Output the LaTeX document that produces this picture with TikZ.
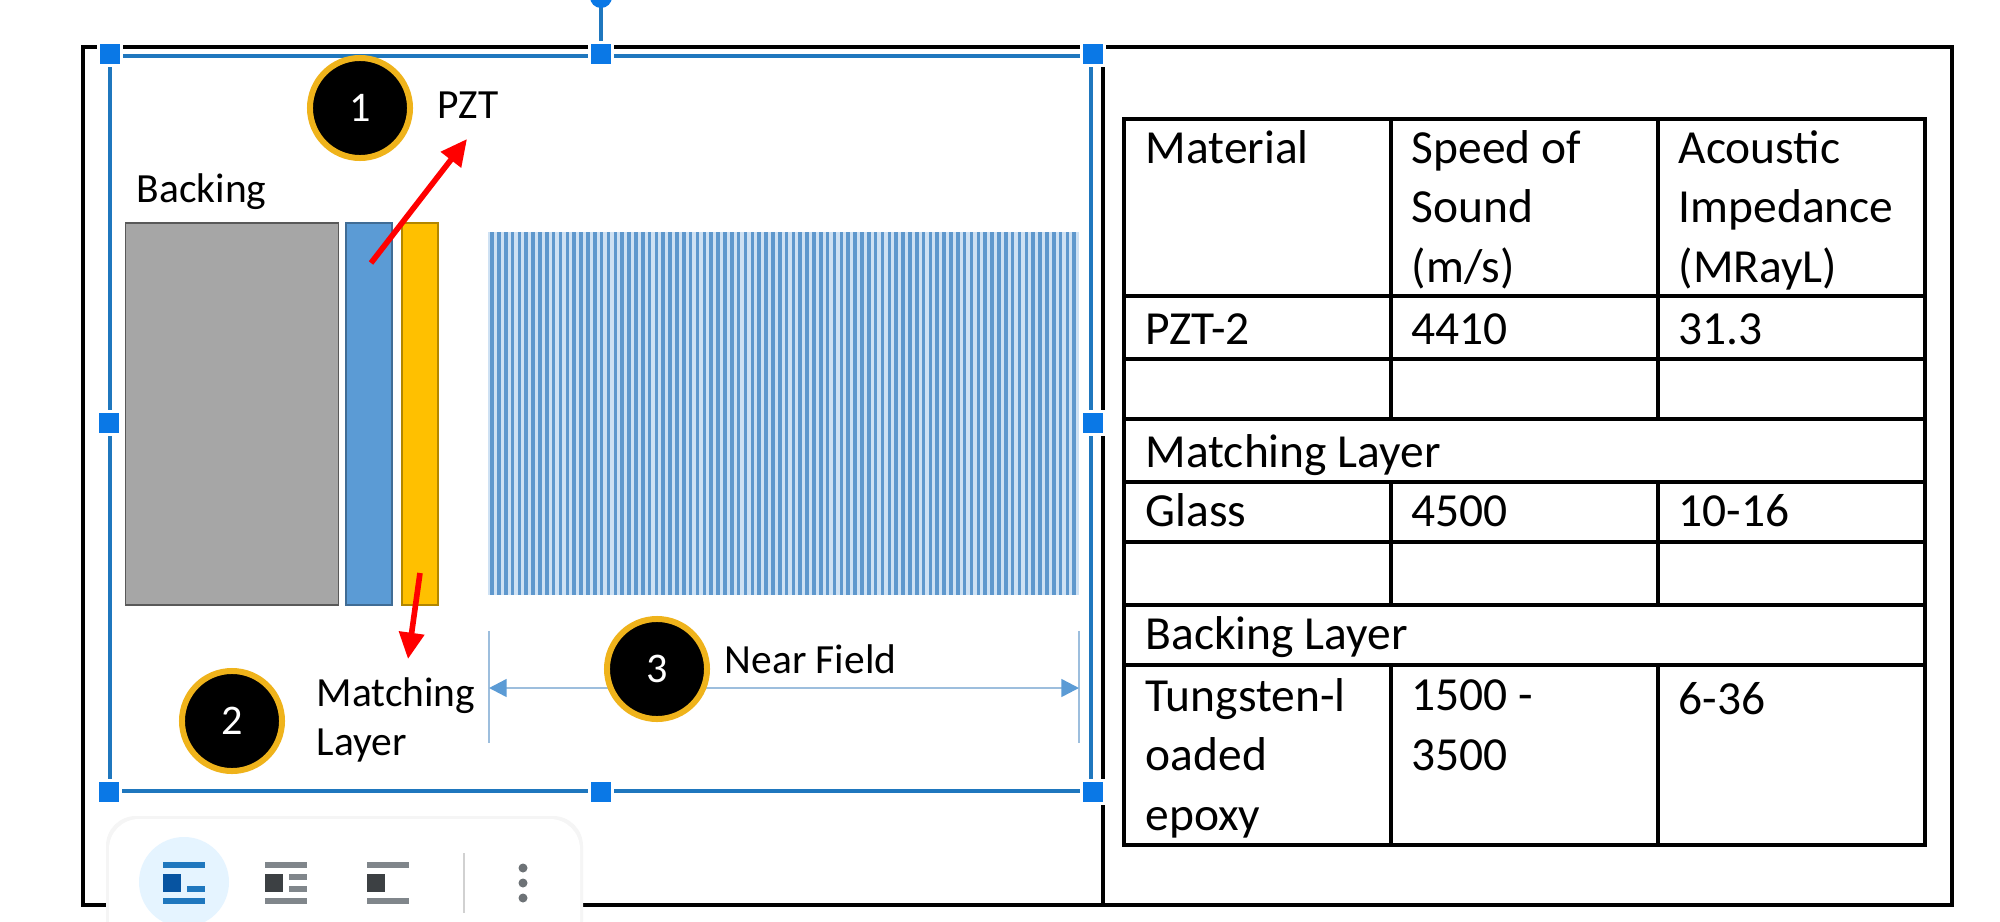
\documentclass[tikz,border=0pt]{standalone}
\usepackage{fontspec}
\setmainfont{Carlito}
\usepackage{tikz}
\usetikzlibrary{arrows.meta, positioning, shadows.blur}
\definecolor{selBlue}{HTML}{1F77BE}
\definecolor{handleBlue}{HTML}{0A78E6}
\definecolor{coilBlue}{HTML}{5B9BD5}
\definecolor{dimBlue}{HTML}{9DBEDD}
\definecolor{matchGold}{HTML}{FFC000}
\definecolor{ringGold}{HTML}{EFB31B}
\definecolor{iconGrey}{HTML}{80868B}
\definecolor{iconDark}{HTML}{3C4043}

\begin{document}
\begin{tikzpicture}[
  x=0.01cm, y=-0.01cm,
  layer/.style={draw=#1!70!black, line width=0.4pt, inner sep=0pt, outer sep=0pt},
  badge/.style={circle, draw=ringGold, fill=black, line width=1.7pt, minimum size=1.0cm,
               inner sep=0pt, text=white, font=\fontsize{12}{14}\selectfont},
  lbl/.style={anchor=base west, inner sep=0pt, font=\fontsize{11.8}{13.8}\selectfont, align=left},
  cell/.style={anchor=base west, inner sep=0pt, font=\fontsize{13.5}{16.9}\selectfont, align=left},
  grid/.style={line width=0.9pt, black},
  redarr/.style={-{Triangle[length=7.5pt,width=7pt]}, line width=1.6pt, red},
  dimarr/.style={-{Triangle[length=5pt,width=5pt,color=coilBlue]}, line width=0.7pt, dimBlue},
  handle/.style={rectangle, fill=handleBlue, draw=white, line width=0.6pt, minimum size=0.23cm, inner sep=0pt}
]
  \clip (0,0) rectangle (2000,921);
  \fill[white] (0,0) rectangle (2000,921);

  % outer frame and table
  \draw[grid] (83,47) rectangle (1952,905);
  \draw[grid] (1103,47) -- (1103,905);
  \draw[grid] (1124,119) rectangle (1925,845);
  \foreach \yy in {296,359,419,482,542,605,665} {
    \draw[grid] (1124,\yy) -- (1925,\yy);
  }
  \foreach \xx in {1391,1658} {
    \draw[grid] (\xx,119) -- (\xx,419);
    \draw[grid] (\xx,482) -- (\xx,605);
    \draw[grid] (\xx,665) -- (\xx,845);
  }

  \node[cell] (tMat) at (1145,163) {Material};
  \node[cell] (tSpeed) at (1411,282) {Speed of\\Sound\\(m/s)};
  \node[cell] (tAcou) at (1678,282) {Acoustic\\Impedance\\(MRayL)};
  \node[cell] (tPzt) at (1145,344) {PZT-2};
  \node[cell] (tPztC) at (1411,344) {4410};
  \node[cell] (tPztZ) at (1678,344) {31.3};
  \node[cell] (tMatch) at (1145,467) {Matching Layer};
  \node[cell] (tGlass) at (1145,526) {Glass};
  \node[cell] (tGlassC) at (1411,526) {4500};
  \node[cell] (tGlassZ) at (1678,526) {10-16};
  \node[cell] (tBack) at (1145,649) {Backing Layer};
  \node[cell] (tTung) at (1145,830) {Tungsten-l\\oaded\\epoxy};
  \node[cell] (tTungC) at (1411,770) {1500 -\\3500};
  \node[cell] (tTungZ) at (1678,714) {6-36};

  % selection box
  \draw[selBlue, line width=1pt] (110,56) rectangle (1091,791);
  \draw[selBlue, line width=1pt] (601,0) -- (601,54);
  \fill[handleBlue] (601,-3) circle (11);

  % layers
  \node[layer=gray, fill=black!35, minimum width=2.13cm, minimum height=3.82cm] (backing) at (232,414) {};
  \node[layer=coilBlue, fill=coilBlue, minimum width=0.46cm, minimum height=3.82cm] (pzt) at (369,414) {};
  \node[layer=matchGold, fill=matchGold, minimum width=0.36cm, minimum height=3.82cm] (matching) at (420,414) {};

  % near field stripes
  \fill[coilBlue!30] (488,232) rectangle (1079,595);
  \foreach \i in {0,...,85} {
    \fill[white!70!coilBlue] ({488+6.85*\i},232) rectangle ({488+6.85*\i+2},595);
    \fill[coilBlue!90!gray] ({488+6.85*\i+2.2},232) rectangle ({488+6.85*\i+5.8},595);
  }

  % labels
  \node[lbl] (backLbl) at (136,202) {Backing};
  \node[lbl] (pztLbl) at (437,118) {PZT};
  \node[lbl] (matchLbl) at (316,755) {Matching\\Layer};
  \node[lbl] (nearLbl) at (724,673) {Near Field};

  % dimension lines
  \coordinate (nfLeft) at (489,688);
  \coordinate (nfRight) at (1079,688);
  \draw[dimBlue, line width=0.5pt] (489,631) -- (489,743);
  \draw[dimBlue, line width=0.5pt] (1079,631) -- (1079,743);

  \node[badge] (one) at (360,108) {1};
  \node[badge] (two) at (232,721) {2};
  \coordinate (threePos) at (657,669);
  \draw[dimarr] (threePos |- nfLeft) -- (nfLeft);
  \draw[dimarr] (threePos |- nfRight) -- (nfRight);
  \node[badge] (three) at (threePos) {3};

  % arrows
  \coordinate (pztFrom) at (371,263);
  \coordinate (pztTip) at (467,139);
  \coordinate (matchFrom) at (420,573);
  \coordinate (matchTip) at (408,659);
  \draw[redarr] (pztFrom) -- (pztTip);
  \draw[redarr] (matchFrom) -- (matchTip);

  % handles
  \foreach \hx/\hy/\hname in {110/54/hA, 601/54/hB, 1093/54/hC, 109/423/hD, 1093/423/hE, 109/792/hF, 601/792/hG, 1093/792/hH} {
    \node[handle] (\hname) at (\hx,\hy) {};
  }

  % toolbar
  \fill[black!4, rounded corners=0.3cm] (106,816) rectangle (583,960);
  \fill[white, rounded corners=0.3cm] (109,819) rectangle (580,960);
  \fill[blue!45!cyan!10] (184,882) circle (45);
  \fill[selBlue] (163,862) rectangle (205,868);
  \fill[handleBlue!70!black] (163,874) rectangle (181,892);
  \fill[selBlue] (187,886) rectangle (205,892);
  \fill[selBlue] (163,898) rectangle (205,904);
  \fill[iconGrey] (265,862) rectangle (307,868);
  \fill[iconDark] (265,874) rectangle (283,892);
  \fill[iconGrey] (289,874) rectangle (307,880);
  \fill[iconGrey] (289,886) rectangle (307,892);
  \fill[iconGrey] (265,898) rectangle (307,904);
  \fill[iconGrey] (367,862) rectangle (409,868);
  \fill[iconDark] (367,874) rectangle (385,892);
  \fill[iconGrey] (367,898) rectangle (409,904);
  \draw[black!18, line width=0.5pt] (464,853) -- (464,913);
  \foreach \dy in {868,883,898} {
    \fill[iconGrey!85!black] (523,\dy) circle (4.5);
  }
\end{tikzpicture}
\end{document}
